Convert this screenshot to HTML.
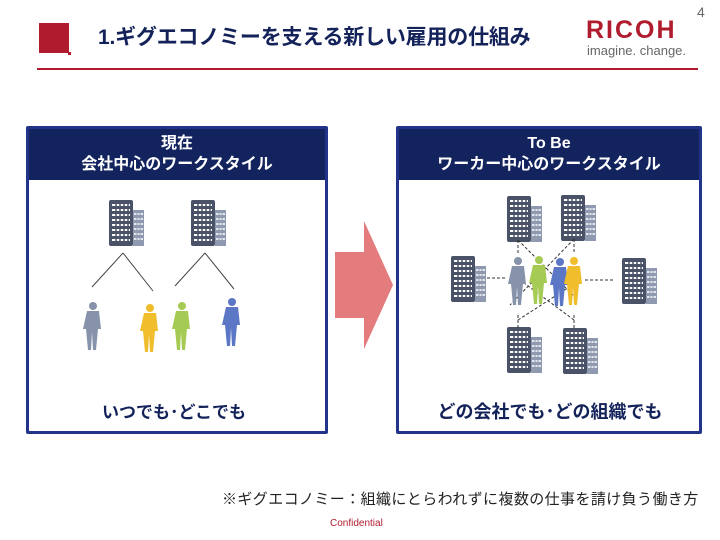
<!DOCTYPE html>
<html><head><meta charset="utf-8"><style>
body{margin:0;width:720px;height:540px;background:#fff;position:relative;overflow:hidden;font-family:"Liberation Sans","Noto Sans CJK JP",sans-serif}
.a{position:absolute}
</style></head><body>
<div class="a" style="left:39px;top:23px;width:30px;height:30px;background:#b01c2e"></div>
<div class="a" style="left:68px;top:52px;width:3px;height:3px;background:#b01c2e"></div>
<div class="a" style="left:98px;top:21px;font-size:21px;font-weight:bold;color:#14225a;letter-spacing:-0.2px">1.ギグエコノミーを支える新しい雇用の仕組み</div>
<div class="a" style="left:586px;top:16px;font-size:25px;font-weight:bold;color:#b01c2e;letter-spacing:2px">RICOH</div>
<div class="a" style="left:587px;top:43px;font-size:13px;color:#666">imagine. change.</div>
<div class="a" style="left:697px;top:4px;font-size:14px;color:#666">4</div>
<div class="a" style="left:37px;top:68px;width:661px;height:2px;background:#b01c2e"></div>

<div class="a" style="left:26px;top:126px;width:296px;height:302px;border:3px solid #22348a;border-radius:2px"></div>
<div class="a" style="left:29px;top:129px;width:296px;height:51px;background:#13235e;color:#fff;font-size:16px;font-weight:bold;text-align:center;line-height:21px;padding-top:4px;box-sizing:border-box">現在<br>会社中心のワークスタイル</div>
<div class="a" style="left:26px;top:398px;width:296px;text-align:center;font-size:17px;font-weight:bold;color:#14225a">いつでも･どこでも</div>

<div class="a" style="left:396px;top:126px;width:300px;height:302px;border:3px solid #22348a;border-radius:2px"></div>
<div class="a" style="left:399px;top:129px;width:300px;height:51px;background:#13235e;color:#fff;font-size:16px;font-weight:bold;text-align:center;line-height:21px;padding-top:4px;box-sizing:border-box">To Be<br>ワーカー中心のワークスタイル</div>
<div class="a" style="left:400px;top:398px;width:300px;text-align:center;font-size:18px;font-weight:bold;color:#14225a">どの会社でも･どの組織でも</div>

<svg class="a" style="left:0;top:0" width="720" height="540">
<defs>
<g id="b">
<rect x="0" y="0" width="24" height="46" fill="#4a5268" rx="2"/>
<path d="M3 5h18M3 10h18M3 15h18M3 20h18M3 25h18M3 30h18M3 35h18M3 40h18" stroke="#fff" stroke-width="2"/>
<path d="M7 3v40M11 3v40M15 3v40M19 3v40" stroke="#4a5268" stroke-width="1.5"/>
<rect x="24" y="10" width="11" height="36" fill="#8f9ab0"/>
<path d="M25 14h9M25 19h9M25 24h9M25 29h9M25 34h9M25 39h9" stroke="#fff" stroke-width="1.5"/>
<path d="M28 12v32M31 12v32" stroke="#8f9ab0" stroke-width="1"/>
</g>
<g id="p"><circle cx="0" cy="-22" r="4"/><path d="M-6 -17h12l2 18h-3l-2 21h-3l-1-18-1 18h-3l-2-21h-3z"/></g>
</defs>
<use href="#b" x="109" y="200"/><use href="#b" x="191" y="200"/>
<path d="M123 253 92 287M123 253 153 291M205 253 175 286M205 253 234 289" stroke="#444" stroke-width="1" fill="none"/>
<use href="#p" x="93" y="328" fill="#8793ab"/>
<use href="#p" x="150" y="330" fill="#f0bd2c"/>
<use href="#p" x="182" y="328" fill="#a6cb55"/>
<use href="#p" x="232" y="324" fill="#5b77c6"/>
<polygon points="335,252 364,252 364,221 393,285 364,349 364,318 335,318" fill="#e47c7e"/>
<use href="#b" x="507" y="196"/><use href="#b" x="561" y="195"/>
<use href="#b" x="451" y="256"/><use href="#b" x="622" y="258"/>
<use href="#b" x="507" y="327"/><use href="#b" x="563" y="328"/>
<g stroke="#333" stroke-width="1" stroke-dasharray="3,2" fill="none">
<path d="M518 240v15M574 239v15M518 315v15M574 315v15M518 240 578 300M574 239 510 305M518 320 580 280M574 320 520 280M487 278h20M585 280h30"/>
</g>
<use href="#p" x="518" y="283" fill="#8793ab"/>
<use href="#p" x="539" y="282" fill="#a6cb55"/>
<use href="#p" x="560" y="284" fill="#5b77c6"/>
<use href="#p" x="574" y="283" fill="#f0bd2c"/>
</svg>

<div class="a" style="left:222px;top:488px;font-size:15px;color:#222;letter-spacing:0.4px">※ギグエコノミー：組織にとらわれずに複数の仕事を請け負う働き方</div>
<div class="a" style="left:330px;top:518px;font-size:10px;color:#b01c2e">Confidential</div>
</body></html>
